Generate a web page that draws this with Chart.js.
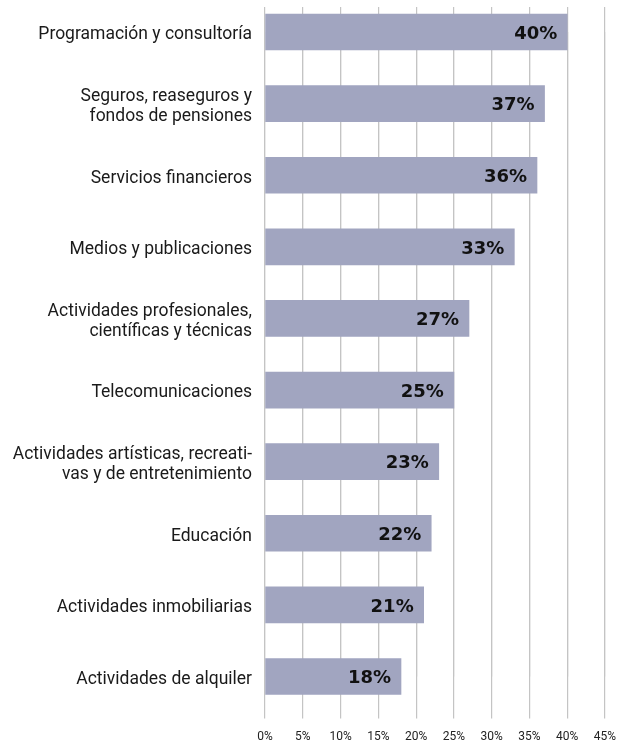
<!DOCTYPE html>
<html>
<head>
<meta charset="utf-8">
<script src="https://cdn.jsdelivr.net/npm/chart.js@4/dist/chart.umd.min.js"></script>
<style>
html,body{margin:0;padding:0;background:#fff;}
#wrap{width:630px;height:744px;position:relative;}
</style>
</head>
<body>
<div id="wrap"><canvas id="c"></canvas></div>
<script>
const categories = [
  ["Programación y consultoría"],
  ["Seguros, reaseguros y", "fondos de pensiones"],
  ["Servicios financieros"],
  ["Medios y publicaciones"],
  ["Actividades profesionales,", "científicas y técnicas"],
  ["Telecomunicaciones"],
  ["Actividades artísticas, recreati-", "vas y de entretenimiento"],
  ["Educación"],
  ["Actividades inmobiliarias"],
  ["Actividades de alquiler"]
];
const values = [40, 37, 36, 33, 27, 25, 23, 22, 21, 18];
const xTicks = [0, 5, 10, 15, 20, 25, 30, 35, 40, 45];

const gridColor = '#c4c4c4';

const valueLabels = {
  id: 'valueLabels',
  afterDatasetsDraw(chart) {
    const ctx = chart.ctx;
    const meta = chart.getDatasetMeta(0);
    ctx.save();
    ctx.font = 'bold 18px "DejaVu Sans"';
    ctx.fillStyle = '#111';
    ctx.textAlign = 'right';
    ctx.textBaseline = 'middle';
    meta.data.forEach((bar, i) => {
      ctx.fillText(values[i] + '%', bar.x - 10, bar.y + 2);
    });
    ctx.restore();
  }
};

new Chart(document.getElementById('c'), {
  type: 'bar',
  data: {
    labels: categories,
    datasets: [{
      data: values,
      backgroundColor: '#a1a5c0',
      borderWidth: 0,
      barThickness: 36,
      clip: false
    }]
  },
  options: {
    indexAxis: 'y',
    responsive: true,
    maintainAspectRatio: false,
    animation: false,
    layout: { padding: { left: 0, right: 25, top: 0, bottom: 0 } },
    plugins: { legend: { display: false }, tooltip: { enabled: false } },
    scales: {
      y: {
        type: 'category',
        offset: false,
        grid: { display: false, drawTicks: false },
        border: { display: false },
        ticks: {
          color: '#1a1a1a',
          font: { family: 'Roboto', size: 17.5, lineHeight: 1.15 },
          padding: 13,
          labelOffset: 3,
          autoSkip: false
        },
        afterFit(scale) { scale.width = 265; }
      },
      x: {
        position: 'bottom',
        min: 0, max: 45,
        afterBuildTicks(scale) { scale.ticks = xTicks.map(v => ({ value: v })); },
        grid: { color: gridColor, lineWidth: 1.2, drawTicks: true, tickLength: 42, tickColor: gridColor },
        border: { display: false },
        ticks: {
          color: '#222',
          font: { family: 'Roboto', size: 12 },
          padding: 11,
          maxRotation: 0,
          callback: v => v + '%'
        },
        afterFit(scale) { scale.height = 67.5; }
      },
      x2: {
        position: 'top',
        axis: 'x',
        min: 0, max: 45,
        afterBuildTicks(scale) { scale.ticks = xTicks.map(v => ({ value: v })); },
        grid: { color: gridColor, lineWidth: 1.2, drawTicks: true, tickLength: 25, tickColor: gridColor },
        border: { display: false },
        ticks: { display: false },
        afterFit(scale) { scale.height = 32; }
      }
    }
  },
  plugins: [valueLabels]
});
</script>
</body>
</html>
